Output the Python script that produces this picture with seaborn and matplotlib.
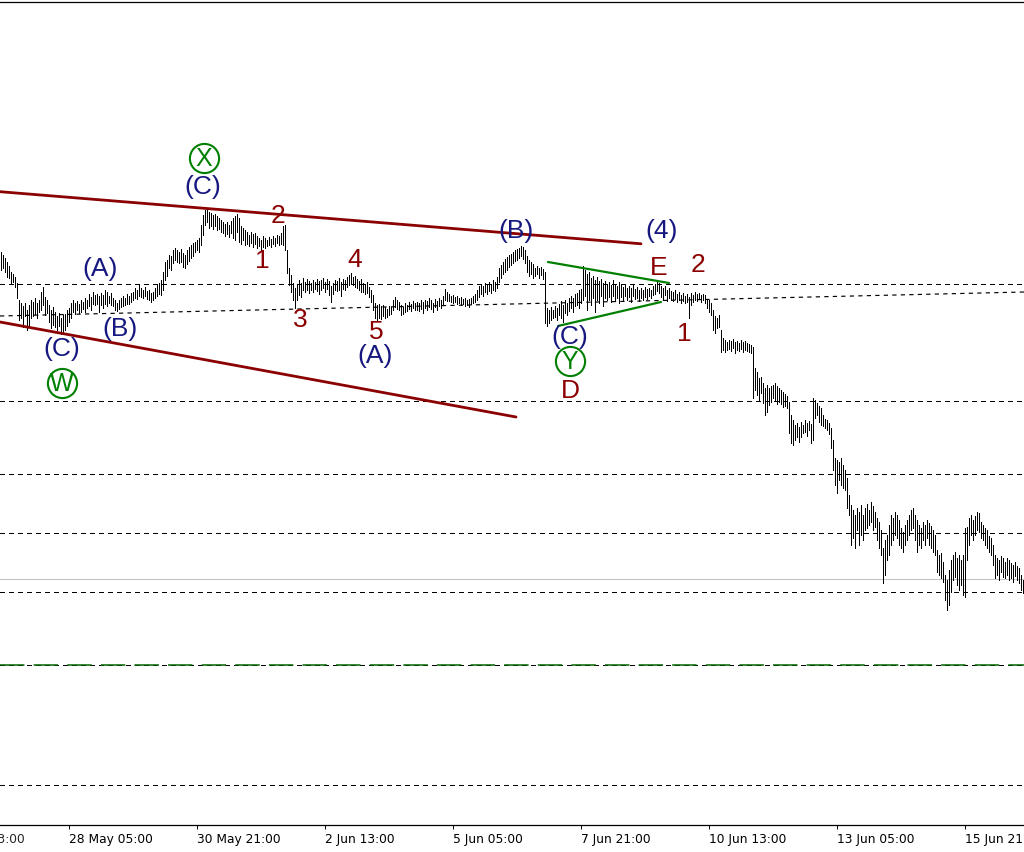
import numpy as np
import pandas as pd
import matplotlib
matplotlib.use("Agg")
import matplotlib.pyplot as plt
import matplotlib.dates as mdates
import matplotlib.transforms as mtransforms
import seaborn as sns

# ---------------- data (hourly bars, arbitrary price units) ----------------
START = "2023-05-26 19:00"

high = [
    748, 745, 742, 738, 734, 728, 726, 723, 717, 700, 697, 694, 697, 690, 695, 700,
    698, 702, 697, 700, 708, 713, 703, 700, 695, 690, 693, 688, 684, 687, 682, 685,
    686, 690, 692, 697, 700, 697, 699, 696, 700, 698, 702, 700, 706, 703, 708, 705,
    706, 704, 707, 705, 710, 708, 704, 707, 702, 700, 697, 700, 702, 704, 702, 706,
    704, 707, 708, 712, 710, 715, 712, 710, 713, 709, 710, 707, 708, 712, 715, 717,
    720, 728, 738, 740, 745, 744, 750, 752, 750, 748, 751, 747, 745, 750, 753, 755,
    757, 758, 760, 762, 775, 785, 790, 791, 788, 787, 785, 786, 784, 782, 780, 778,
    776, 778, 775, 779, 782, 784, 786, 782, 774, 772, 770, 768, 765, 768, 766, 767,
    764, 762, 760, 764, 762, 760, 763, 761, 764, 762, 765, 764, 767, 774, 775, 750,
    732, 725, 717, 712, 715, 720, 717, 722, 718, 721, 719, 717, 720, 718, 721, 719,
    720, 722, 718, 721, 719, 714, 717, 720, 719, 722, 718, 721, 720, 723, 725, 727,
    723, 724, 721, 719, 721, 717, 716, 718, 713, 710, 705, 697, 695, 696, 694, 695,
    693, 691, 694, 693, 700, 703, 700, 698, 695, 693, 697, 695, 698, 696, 699, 697,
    698, 697, 700, 698, 700, 699, 702, 700, 697, 701, 699, 702, 700, 704, 711, 708,
    706, 704, 705, 703, 704, 702, 703, 701, 702, 700, 701, 702, 704, 706, 710, 714,
    716, 714, 717, 715, 718, 716, 720, 718, 723, 732, 735, 738, 741, 743, 745, 746,
    748, 750, 751, 752, 754, 753, 750, 744, 740, 738, 736, 732, 734, 732, 733, 731,
    728, 692, 690, 693, 690, 694, 692, 696, 699, 695, 700, 697, 702, 704, 702, 706,
    707, 710, 711, 734, 730, 726, 728, 722, 724, 720, 723, 719, 721, 717, 719, 716,
    718, 715, 720, 716, 714, 718, 715, 713, 716, 712, 714, 712, 715, 711, 713, 710,
    712, 710, 713, 711, 712, 710, 714, 716, 720, 717, 714, 712, 714, 710, 712, 709,
    708, 710, 706, 708, 705, 707, 704, 706, 703, 707, 705, 708, 706, 707, 705, 706,
    705, 701, 700, 697, 690, 684, 682, 685, 670, 662, 660, 658, 660, 659, 661, 658,
    659, 657, 660, 658, 659, 657, 656, 655, 653, 632, 628, 622, 623, 617, 612, 615,
    612, 614, 615, 617, 614, 612, 610, 608, 606, 604, 598, 585, 580, 575, 577, 573,
    578, 575, 580, 577, 579, 576, 602, 600, 597, 594, 592, 585, 581, 580, 577, 572,
    560, 542, 540, 538, 542, 535, 530, 522, 505, 495, 490, 485, 492, 488, 495, 485,
    492, 496, 490, 498, 494, 488, 482, 478, 470, 452, 460, 465, 475, 485, 482, 488,
    485, 480, 472, 468, 475, 480, 485, 490, 492, 485, 480, 475, 472, 478, 475, 480,
    477, 474, 470, 465, 450, 445, 447, 438, 425, 420, 430, 440, 445, 448, 442, 445,
    440, 445, 472, 473, 482, 485, 480, 484, 488, 487, 478, 475, 472, 470, 464, 462,
    455, 445, 442, 440, 444, 442, 438, 442, 440, 437, 435, 438, 434, 432, 425, 420,
]

low = [
    730, 732, 728, 723, 722, 717, 718, 713, 702, 680, 682, 673, 684, 670, 675, 682,
    684, 686, 682, 688, 690, 695, 685, 687, 678, 672, 675, 673, 670, 674, 666, 668,
    670, 674, 678, 682, 688, 686, 690, 687, 688, 691, 688, 692, 694, 690, 696, 695,
    696, 688, 695, 692, 696, 694, 697, 695, 694, 690, 689, 691, 693, 694, 695, 696,
    696, 698, 700, 702, 701, 704, 703, 702, 704, 701, 700, 698, 700, 702, 704, 706,
    705, 710, 720, 724, 732, 730, 737, 740, 738, 737, 738, 733, 732, 736, 739, 742,
    744, 748, 750, 748, 755, 765, 775, 778, 772, 774, 771, 774, 770, 771, 768, 767,
    764, 766, 763, 767, 762, 760, 768, 758, 756, 760, 755, 756, 754, 757, 753, 756,
    752, 754, 750, 753, 752, 754, 755, 753, 756, 754, 757, 755, 756, 755, 750, 727,
    715, 708, 700, 692, 700, 705, 703, 710, 708, 710, 707, 710, 708, 711, 709, 706,
    710, 712, 708, 711, 705, 698, 706, 710, 709, 710, 704, 711, 710, 713, 715, 716,
    715, 713, 712, 710, 708, 708, 706, 707, 703, 698, 690, 682, 680, 682, 681, 684,
    682, 683, 685, 686, 690, 693, 691, 690, 685, 686, 688, 689, 691, 689, 692, 690,
    690, 689, 691, 687, 692, 690, 693, 691, 688, 693, 690, 694, 692, 695, 700, 699,
    699, 698, 697, 698, 696, 697, 695, 696, 694, 695, 693, 696, 697, 698, 700, 703,
    706, 704, 708, 706, 709, 707, 710, 709, 712, 718, 722, 726, 728, 730, 733, 735,
    737, 739, 740, 742, 744, 741, 737, 728, 724, 726, 722, 724, 726, 722, 725, 721,
    677, 674, 677, 680, 682, 683, 680, 685, 682, 678, 687, 685, 689, 692, 688, 694,
    695, 692, 697, 700, 704, 690, 700, 695, 702, 688, 700, 697, 704, 694, 702, 700,
    703, 698, 704, 700, 702, 697, 703, 699, 704, 700, 703, 698, 704, 701, 702, 699,
    702, 700, 703, 701, 704, 702, 705, 706, 709, 707, 703, 700, 705, 699, 702, 700,
    699, 701, 698, 700, 697, 699, 697, 698, 682, 695, 698, 700, 699, 701, 698, 700,
    697, 692, 688, 685, 670, 667, 672, 673, 648, 650, 648, 650, 651, 649, 652, 647,
    650, 649, 651, 648, 650, 649, 648, 647, 602, 610, 605, 600, 607, 597, 585, 588,
    595, 598, 602, 600, 596, 598, 596, 593, 594, 592, 567, 557, 555, 560, 563, 558,
    563, 567, 568, 564, 570, 557, 560, 582, 585, 578, 575, 574, 572, 570, 566, 552,
    530, 515, 507, 520, 515, 512, 510, 492, 485, 455, 462, 452, 470, 455, 465, 460,
    470, 472, 475, 478, 470, 473, 460, 452, 445, 417, 425, 440, 445, 455, 460, 465,
    462, 455, 452, 448, 455, 460, 465, 470, 472, 460, 448, 455, 452, 460, 455, 462,
    455, 452, 448, 445, 428, 425, 422, 418, 400, 390, 395, 408, 420, 423, 415, 410,
    415, 405, 403, 440, 455, 465, 460, 465, 470, 468, 462, 460, 455, 452, 448, 445,
    435, 422, 425, 420, 428, 423, 422, 425, 420, 422, 418, 424, 420, 417, 410, 407,
]

# horizontal levels
level_dashed = [716.5, 599, 526, 467, 408, 335, 215]
level_green = [335]
level_gray = [421]

# trend lines (bar offsets in hours from START, price)
slope_bars, slope_prices = [-0.3, 511.7], [684, 708]
upper_ch_bars, upper_ch_prices = [-0.3, 320.2], [808.3, 756.2]
lower_ch_bars, lower_ch_prices = [-0.3, 257.7], [678, 583]
tri_up_bars, tri_up_prices = [273.7, 334.2], [738, 717]
tri_lo_bars, tri_lo_prices = [278.7, 330.2], [674, 698]

# wave labels
navy_text = ["(A)", "(B)", "(C)", "(C)", "(A)", "(B)", "(C)", "(4)"]
navy_bar = [49.7, 59.7, 30.7, 101.2, 187.2, 257.7, 284.7, 330.7]
navy_price = [731, 671, 651, 813, 644, 769, 663, 769]

red_text = ["2", "1", "3", "4", "5", "D", "E", "2", "1"]
red_bar = [138.7, 130.7, 149.7, 177.2, 187.7, 284.7, 329.2, 348.7, 341.7]
red_price = [784, 739, 680, 740, 668, 609, 732, 735, 666]

circ_text = ["X", "W", "Y"]
circ_bar = [101.7, 30.7, 284.7]
circ_price = [842, 617, 639]

tick_times = ["2023-05-25 13:00", "2023-05-28 05:00", "2023-05-30 21:00",
              "2023-06-02 13:00", "2023-06-05 05:00", "2023-06-07 21:00",
              "2023-06-10 13:00", "2023-06-13 05:00", "2023-06-15 21:00"]
tick_labels = ["25 May 13:00", "28 May 05:00", "30 May 21:00", "2 Jun 13:00",
               "5 Jun 05:00", "7 Jun 21:00", "10 Jun 13:00", "13 Jun 05:00",
               "15 Jun 21:00"]

# ---------------- style ----------------
sns.set_theme(style="white")
plt.rcParams["font.family"] = ["DejaVu Sans"]

NAVY = "#17187f"
DRED = "#8b0000"
GREEN = "#008000"
DGREEN = "#006400"
THIN = 0.68  # about one pixel

t0 = pd.Timestamp(START)


def to_num(hours):
    ts = t0 + pd.to_timedelta(np.asarray(hours, dtype=float), unit="h")
    return mdates.date2num(pd.DatetimeIndex(ts).to_pydatetime())


n = len(high)
times = pd.date_range(START, periods=n, freq="h")
bars_df = pd.DataFrame({
    "time": np.repeat(times.values, 2),
    "price": np.ravel(np.column_stack([high, low])),
    "bar": np.repeat(np.arange(n), 2),
})

fig = plt.figure(figsize=(10.24, 8.52), dpi=100)
ax = fig.add_axes([0, 27 / 852, 1, 823 / 852])

# levels
for lv in level_dashed:
    ax.axhline(lv, color="black", lw=THIN, linestyle=(0, (4.4, 4.4)), zorder=1,
               antialiased=False)
for lv in level_green:
    ax.axhline(lv, color=DGREEN, lw=1.1, linestyle=(0, (16, 6)), zorder=1.5)
for lv in level_gray:
    ax.axhline(lv, color="#c0c0c0", lw=THIN, zorder=1, antialiased=False)

ax.plot(to_num(slope_bars), slope_prices, color="black", lw=0.85,
        linestyle=(0, (3.6, 3.6)), zorder=1, antialiased=True)

# price bars
sns.lineplot(data=bars_df, x="time", y="price", units="bar", estimator=None,
             color="black", lw=THIN, ax=ax, legend=False, zorder=3,
             antialiased=False)

# channel + triangle
for bx, py, col, lw in [(upper_ch_bars, upper_ch_prices, DRED, 2.0),
                        (lower_ch_bars, lower_ch_prices, DRED, 2.0),
                        (tri_up_bars, tri_up_prices, GREEN, 1.6),
                        (tri_lo_bars, tri_lo_prices, GREEN, 1.6)]:
    sns.lineplot(x=to_num(bx), y=py, color=col, lw=lw, ax=ax, zorder=4)

# labels
lab_font = "Liberation Sans"
for s, b, p in zip(navy_text, navy_bar, navy_price):
    ax.text(to_num([b])[0], p, s, color=NAVY, fontsize=19, family=lab_font,
            ha="center", va="center", zorder=5)
for s, b, p in zip(red_text, red_bar, red_price):
    ax.text(to_num([b])[0], p, s, color=DRED, fontsize=19, family=lab_font,
            ha="center", va="center", zorder=5)
for s, b, p in zip(circ_text, circ_bar, circ_price):
    x = to_num([b])[0]
    ax.plot([x], [p], marker="o", ms=21, mfc="none", mec=GREEN, mew=1.5, zorder=5)
    ax.text(x, p - 1, s, color=GREEN, fontsize=18, family=lab_font,
            ha="center", va="center", zorder=5)

# axes
ax.set_xlim(to_num([-0.3])[0], to_num([n - 0.3])[0])
ax.set_ylim(175, 998)
ax.set_yticks([])
ax.set_xlabel("")
ax.set_ylabel("")

TICK_FS = 8.8
xmin, xmax = ax.get_xlim()
tick_nums = mdates.date2num(pd.DatetimeIndex(pd.to_datetime(tick_times)).to_pydatetime())
inside = [(tn, tl) for tn, tl in zip(tick_nums, tick_labels) if xmin <= tn <= xmax]
outside = [(tn, tl) for tn, tl in zip(tick_nums, tick_labels) if not xmin <= tn <= xmax]
ax.set_xticks([tn for tn, _ in inside])
ax.set_xticklabels([tl for _, tl in inside], ha="left", fontsize=TICK_FS)
ax.tick_params(axis="x", direction="out", length=3, width=0.72, pad=3,
               colors="black", bottom=True)
trans = mtransforms.blended_transform_factory(ax.transData, ax.transAxes)
for tn, tl in outside:
    ax.annotate(tl, xy=(tn, 0), xycoords=trans, xytext=(0, -6.0),
                textcoords="offset points", fontsize=TICK_FS, ha="left",
                va="top", annotation_clip=False)

for side in ["left", "right"]:
    ax.spines[side].set_visible(False)
for side in ["top", "bottom"]:
    ax.spines[side].set_visible(True)
    ax.spines[side].set_color("black")
    ax.spines[side].set_linewidth(0.9)

fig.savefig("out.png", dpi=100)
